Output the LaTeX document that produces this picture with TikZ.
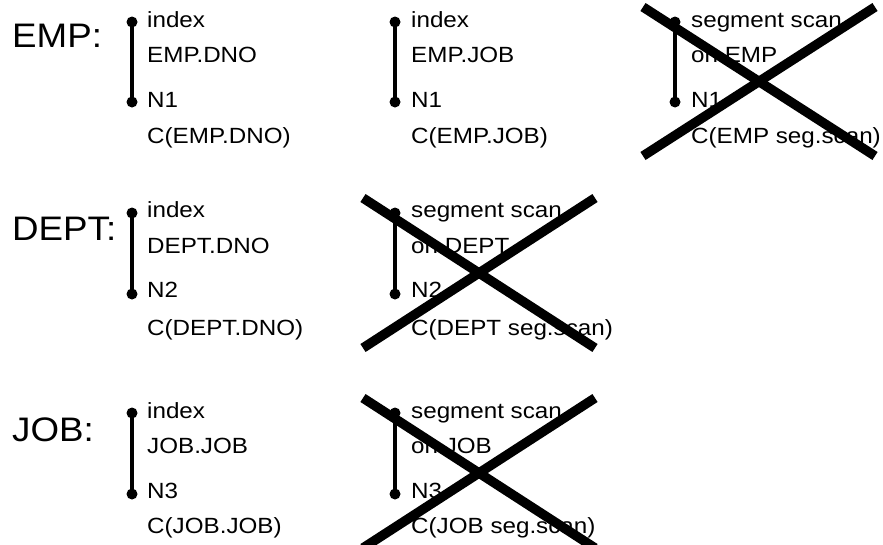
\documentclass[tikz,border=0pt]{standalone}
\usepackage{fontspec}
\setmainfont[FakeStretch=1.10]{Liberation Sans}
\newfontfamily\biglabelfont[FakeStretch=1.08]{Liberation Sans}
\begin{document}
\begin{tikzpicture}[x=1pt,y=-1pt,
  txt/.style={anchor=base west,inner sep=0pt,font=\fontsize{22}{22}\selectfont},
  big/.style={anchor=base west,inner sep=0pt,font=\biglabelfont\fontsize{34}{34}\selectfont},
  rail/.style={line width=4.2pt},
  dotmark/.style={fill=black,circle,inner sep=0pt,minimum size=11pt},
  crossline/.style={line width=9.5pt}]
\useasboundingbox (0,0) rectangle (883,544);

% ---------- Row 1: EMP ----------
\node[big] (lemp) at (12,47) {EMP:};
% col 1
\node[dotmark] (e1t) at (132,22) {};
\node[dotmark] (e1b) at (132,102) {};
\draw[rail] (e1t.center) -- (e1b.center);
\node[txt] (e1a) at (147,27) {index};
\node[txt] (e1c) at (147,62) {EMP.DNO};
\node[txt] (e1d) at (147,107) {N1};
\node[txt] (e1e) at (147,143) {C(EMP.DNO)};
% col 2
\node[dotmark] (e2t) at (395,22) {};
\node[dotmark] (e2b) at (395,102) {};
\draw[rail] (e2t.center) -- (e2b.center);
\node[txt] (e2a) at (411,27) {index};
\node[txt] (e2c) at (411,62) {EMP.JOB};
\node[txt] (e2d) at (411,107) {N1};
\node[txt] (e2e) at (411,143) {C(EMP.JOB)};
% col 3
\node[dotmark] (e3t) at (675,22) {};
\node[dotmark] (e3b) at (675,102) {};
\draw[rail] (e3t.center) -- (e3b.center);
\node[txt] (e3a) at (691,27) {segment scan};
\node[txt] (e3c) at (691,62) {on EMP};
\node[txt] (e3d) at (691,107) {N1};
\node[txt] (e3e) at (691,143) {C(EMP seg.scan)};
\coordinate (x1a) at (643,7);
\coordinate (x1b) at (875,156);
\coordinate (x1c) at (643,156);
\coordinate (x1d) at (875,7);
\draw[crossline] (x1a) -- (x1b);
\draw[crossline] (x1c) -- (x1d);

% ---------- Row 2: DEPT ----------
\node[big] (ldept) at (12,240) {DEPT:};
% col 1
\node[dotmark] (d1t) at (132,213) {};
\node[dotmark] (d1b) at (132,294) {};
\draw[rail] (d1t.center) -- (d1b.center);
\node[txt] (d1a) at (147,217) {index};
\node[txt] (d1c) at (147,253) {DEPT.DNO};
\node[txt] (d1d) at (147,297) {N2};
\node[txt] (d1e) at (147,335) {C(DEPT.DNO)};
% col 2
\node[dotmark] (d2t) at (395,213) {};
\node[dotmark] (d2b) at (395,294) {};
\draw[rail] (d2t.center) -- (d2b.center);
\node[txt] (d2a) at (411,217) {segment scan};
\node[txt] (d2c) at (411,253) {on DEPT};
\node[txt] (d2d) at (411,297) {N2};
\node[txt] (d2e) at (411,335) {C(DEPT seg.scan)};
\coordinate (x2a) at (363,198);
\coordinate (x2b) at (595,348);
\coordinate (x2c) at (363,348);
\coordinate (x2d) at (595,198);
\draw[crossline] (x2a) -- (x2b);
\draw[crossline] (x2c) -- (x2d);

% ---------- Row 3: JOB ----------
\node[big] (ljob) at (12,441) {JOB:};
% col 1
\node[dotmark] (j1t) at (132,413) {};
\node[dotmark] (j1b) at (132,494) {};
\draw[rail] (j1t.center) -- (j1b.center);
\node[txt] (j1a) at (147,418) {index};
\node[txt] (j1c) at (147,453) {JOB.JOB};
\node[txt] (j1d) at (147,498) {N3};
\node[txt] (j1e) at (147,533) {C(JOB.JOB)};
% col 2
\node[dotmark] (j2t) at (395,413) {};
\node[dotmark] (j2b) at (395,494) {};
\draw[rail] (j2t.center) -- (j2b.center);
\node[txt] (j2a) at (411,418) {segment scan};
\node[txt] (j2c) at (411,453) {on JOB};
\node[txt] (j2d) at (411,498) {N3};
\node[txt] (j2e) at (411,533) {C(JOB seg.scan)};
\coordinate (x3a) at (363,398);
\coordinate (x3b) at (595,548);
\coordinate (x3c) at (363,548);
\coordinate (x3d) at (595,398);
\draw[crossline] (x3a) -- (x3b);
\draw[crossline] (x3c) -- (x3d);
\end{tikzpicture}
\end{document}
